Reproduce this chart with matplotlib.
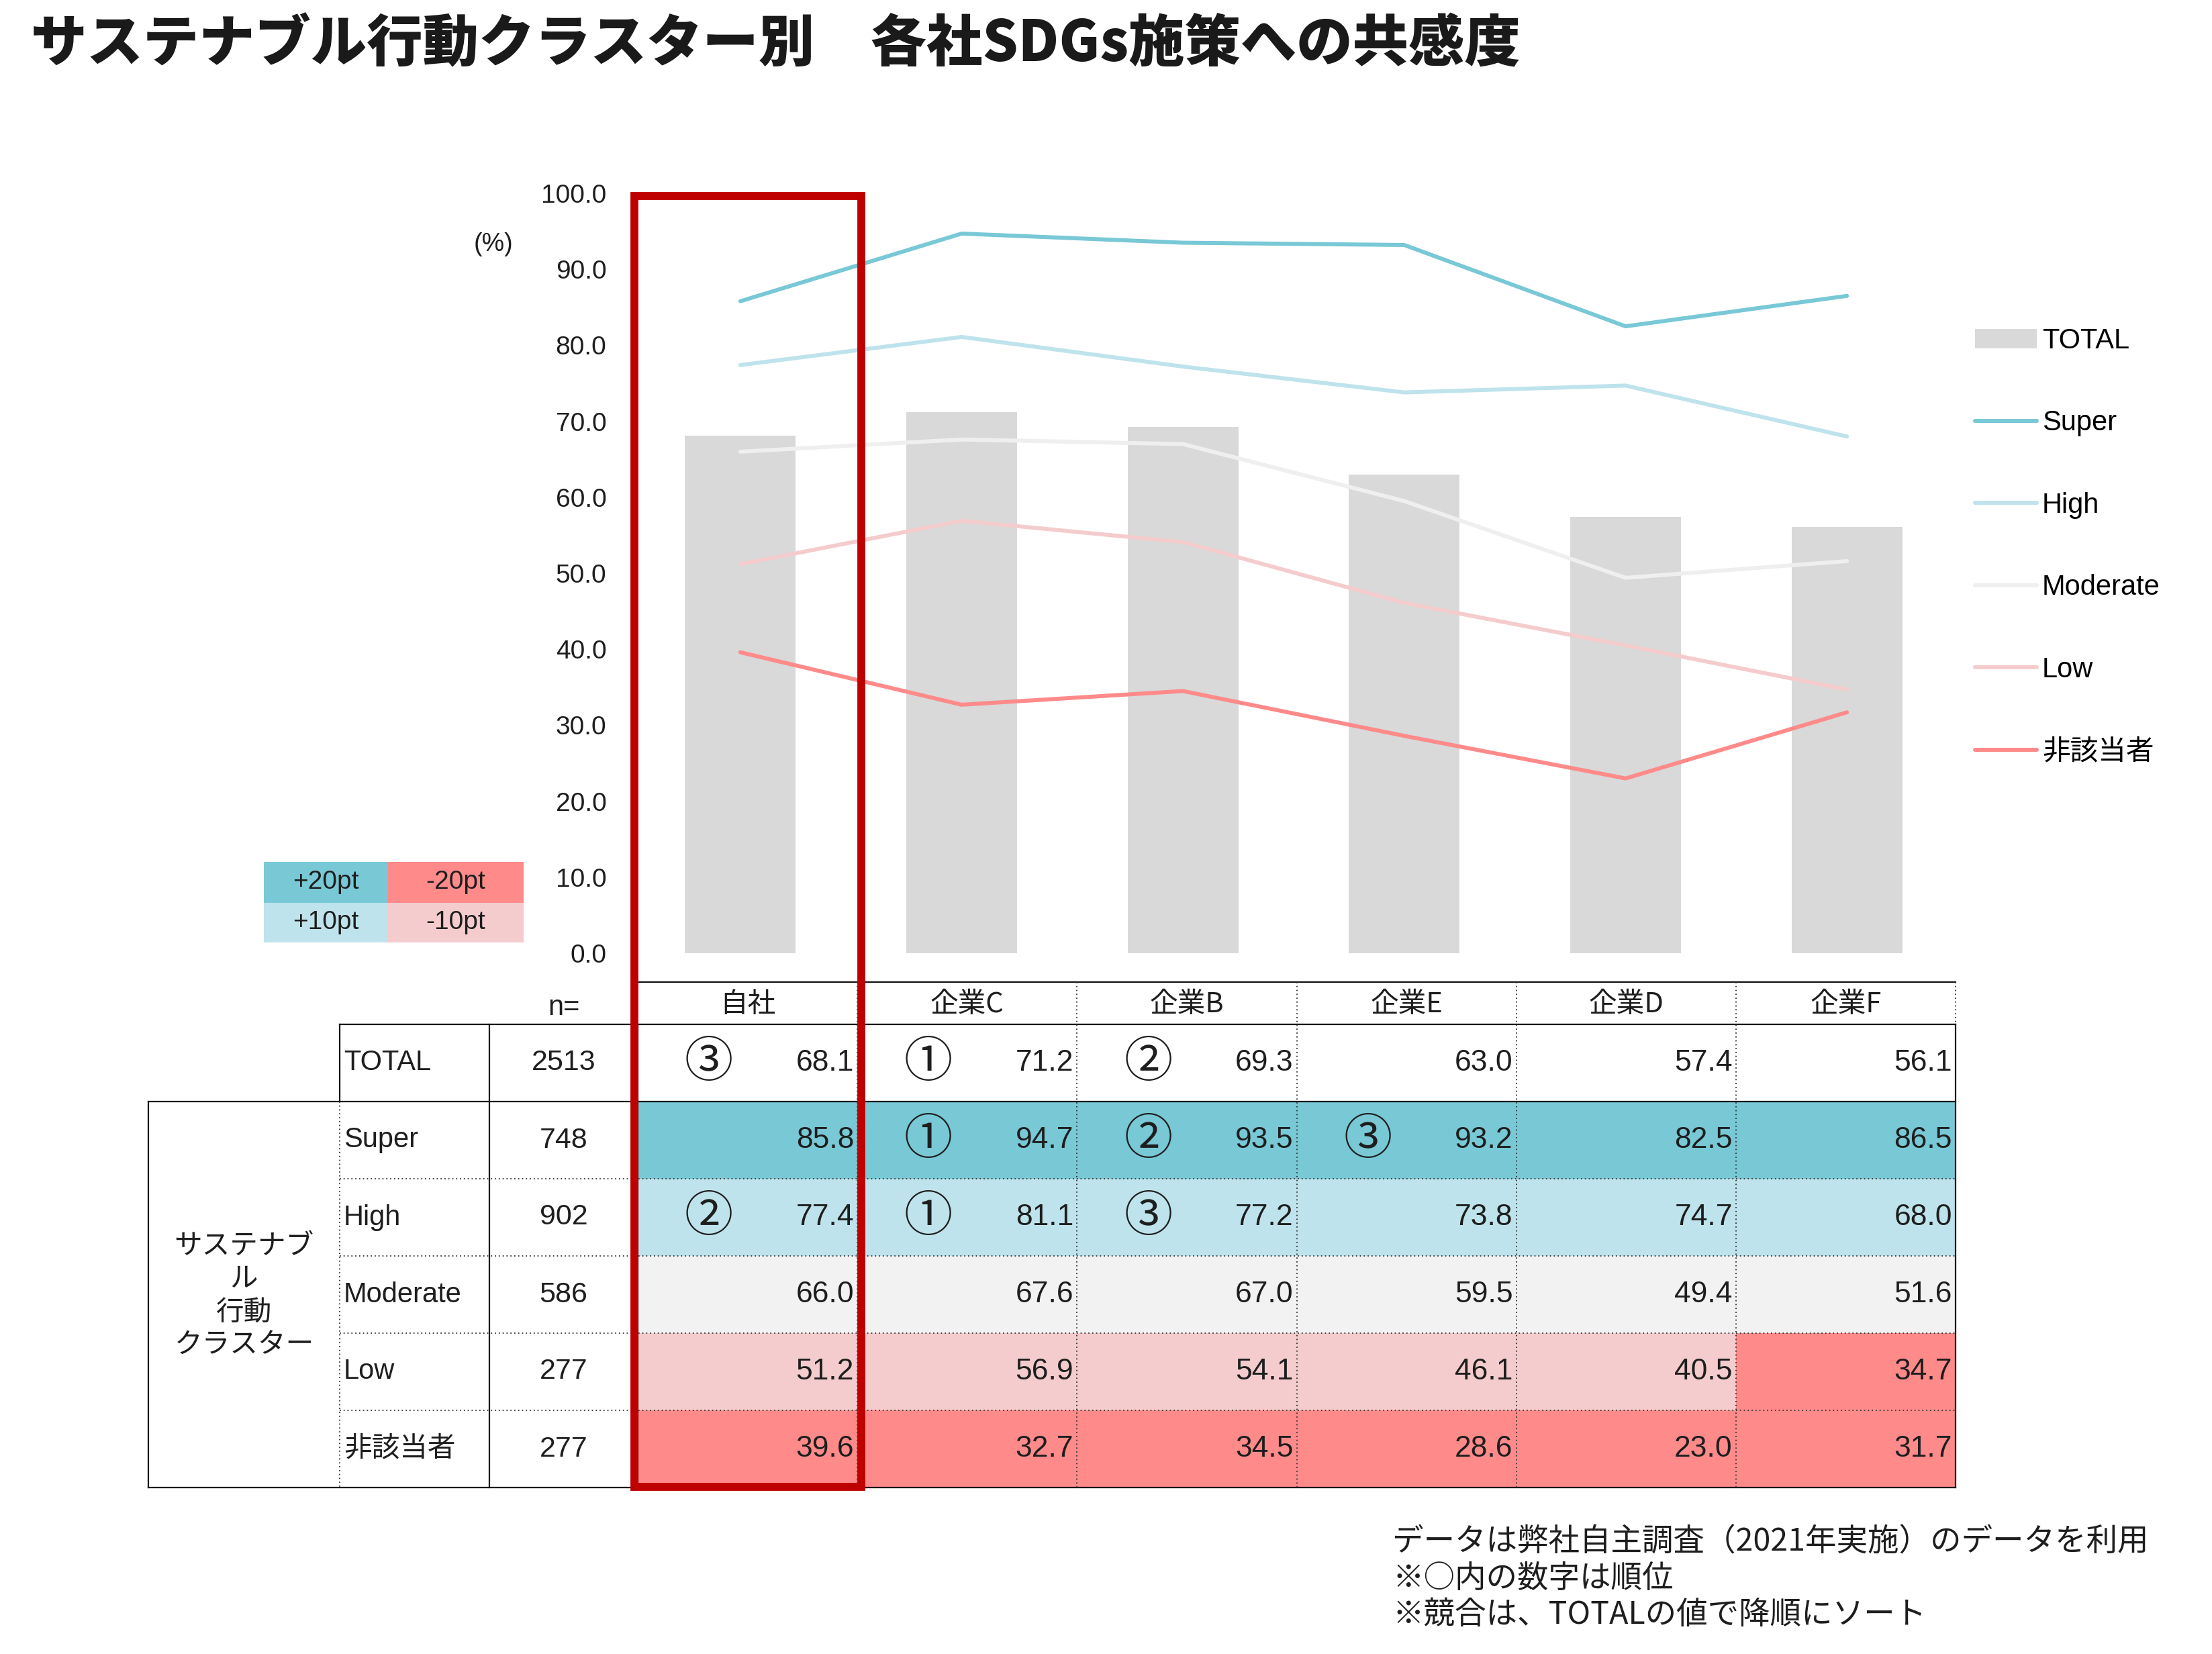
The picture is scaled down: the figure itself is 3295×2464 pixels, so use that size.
import matplotlib
matplotlib.use("Agg")
import matplotlib.pyplot as plt
from matplotlib.patches import Rectangle, Patch
from matplotlib.lines import Line2D

# ---------------- data ----------------
companies = ['自社', '企業C', '企業B', '企業E', '企業D', '企業F']
series_names = ['Super', 'High', 'Moderate', 'Low', '非該当者']
total = [68.1, 71.2, 69.3, 63.0, 57.4, 56.1]
super_vals = [85.8, 94.7, 93.5, 93.2, 82.5, 86.5]
high_vals = [77.4, 81.1, 77.2, 73.8, 74.7, 68.0]
moderate_vals = [66.0, 67.6, 67.0, 59.5, 49.4, 51.6]
low_vals = [51.2, 56.9, 54.1, 46.1, 40.5, 34.7]
non_vals = [39.6, 32.7, 34.5, 28.6, 23.0, 31.7]
n_values = [2513, 748, 902, 586, 277, 277]
row_labels = ['TOTAL', 'Super', 'High', 'Moderate', 'Low', '非該当者']
# rank marks (0 = none)
ranks = [
    [3, 1, 2, 0, 0, 0],
    [0, 1, 2, 3, 0, 0],
    [2, 1, 3, 0, 0, 0],
    [0, 0, 0, 0, 0, 0],
    [0, 0, 0, 0, 0, 0],
    [0, 0, 0, 0, 0, 0],
]
# cell highlight codes for cluster rows
cell_codes = [
    ['p20', 'p20', 'p20', 'p20', 'p20', 'p20'],
    ['p10', 'p10', 'p10', 'p10', 'p10', 'p10'],
    ['z', 'z', 'z', 'z', 'z', 'z'],
    ['m10', 'm10', 'm10', 'm10', 'm10', 'm20'],
    ['m20', 'm20', 'm20', 'm20', 'm20', 'm20'],
]
key_labels = [['+20pt', '-20pt'], ['+10pt', '-10pt']]
footnotes = ['データは弊社自主調査（2021年実施）のデータを利用',
             '※○内の数字は順位',
             '※競合は、TOTALの値で降順にソート']

# ---------------- styles ----------------
C_P20 = '#78C8D6'
C_P10 = '#BEE3EC'
C_Z = '#F2F2F2'
C_M10 = '#F4CCCD'
C_M20 = '#FF8A8A'
code_colors = {'p20': C_P20, 'p10': C_P10, 'z': C_Z, 'm10': C_M10, 'm20': C_M20}
line_colors = [C_P20, C_P10, '#EFEFEF', C_M10, C_M20]
BAR_C = '#D9D9D9'
TXT = '#1E1E1E'
LAT = ['Liberation Sans', 'Noto Sans CJK JP']
JP = ['Noto Sans CJK JP', 'Liberation Sans']

W, H = 3295, 2464
fig = plt.figure(figsize=(W / 100, H / 100), dpi=100)

def fx(x):
    return x / W

def fy(y):
    return 1 - y / H

# ---------------- main chart ----------------
AX0, AX1 = 938, 2916
Y100, Y0 = 288, 1420
ax = fig.add_axes([fx(AX0), fy(Y0), fx(AX1) - fx(AX0), fy(Y100) - fy(Y0)])
xs = list(range(len(companies)))
ax.bar(xs, total, width=0.5, color=BAR_C, zorder=1, label='TOTAL')
all_series = [super_vals, high_vals, moderate_vals, low_vals, non_vals]
for name, vals, col in zip(series_names, all_series, line_colors):
    ax.plot(xs, vals, color=col, lw=4.3, solid_capstyle='round', zorder=2, label=name)
ax.set_xlim(-0.5, len(companies) - 0.5)
ax.set_ylim(0, 100)
ax.set_yticks(range(0, 101, 10))
ax.set_yticklabels([f'{v:.1f}' for v in range(0, 101, 10)], fontsize=28, family=LAT, color=TXT)
ax.tick_params(axis='y', length=0, pad=25)
ax.set_xticks([])
for s in ax.spines.values():
    s.set_visible(False)
ax.patch.set_alpha(0)

handles = [Patch(facecolor=BAR_C, edgecolor='none')] + \
    [Line2D([0], [0], color=c, lw=4.3, solid_capstyle='round') for c in line_colors]
leg = fig.legend(handles, ['TOTAL'] + series_names, loc='upper left',
                 bbox_to_anchor=(fx(2942), fy(488)), frameon=False,
                 prop={'family': LAT, 'size': 30}, handlelength=2.2,
                 handletextpad=0.2, labelspacing=1.98, borderpad=0, borderaxespad=0)

# ---------------- overlay for table ----------------
ov = fig.add_axes([0, 0, 1, 1])
ov.set_xlim(0, W)
ov.set_ylim(H, 0)
ov.axis('off')
ov.patch.set_alpha(0)

X0, X1 = 950, 2913
XC, XL, XN = 221, 506, 729
CW = (X1 - X0) / len(companies)
YH0, YT0 = 1463, 1526
RH = 115
row_tops = [YT0 + i * RH for i in range(len(row_labels) + 1)]

# fills
for r in range(1, len(row_labels)):
    for c in range(len(companies)):
        ov.add_patch(Rectangle((X0 + c * CW, row_tops[r]), CW, RH,
                               facecolor=code_colors[cell_codes[r - 1][c]], edgecolor='none', zorder=1))

solid = dict(color='#111111', lw=1.6, zorder=3)
dotted = dict(color='#333333', lw=1.3, ls=(0, (1, 2.2)), zorder=3)
# horizontal lines
ov.plot([X0, X1], [YH0, YH0], **solid)
ov.plot([XL, X1], [YT0, YT0], **solid)
ov.plot([XC, X1], [row_tops[1], row_tops[1]], **solid)
for r in range(2, len(row_labels)):
    ov.plot([XL, X1], [row_tops[r], row_tops[r]], **dotted)
ov.plot([XC, X1], [row_tops[-1], row_tops[-1]], **solid)
# vertical lines
for c in range(1, len(companies)):
    xx = X0 + c * CW
    ov.plot([xx, xx], [YH0, row_tops[-1]], **dotted)
ov.plot([X1, X1], [YH0, YT0], **dotted)
ov.plot([X1, X1], [YT0, row_tops[-1]], **solid)
ov.plot([XL, XL], [YT0, row_tops[1]], **solid)
ov.plot([XL, XL], [row_tops[1], row_tops[-1]], **dotted)
ov.plot([XN, XN], [YT0, row_tops[-1]], **solid)
ov.plot([X0, X0], [YT0, row_tops[-1]], **solid)
ov.plot([XC, XC], [row_tops[1], row_tops[-1]], **solid)

# header
for c, name in enumerate(companies):
    ov.text(X0 + (c + 0.5) * CW, (YH0 + YT0) / 2 + 2, name, ha='center', va='center',
            fontsize=30, family=JP, color=TXT, zorder=4)
ov.text((XN + X0) / 2, (YH0 + YT0) / 2 + 6, 'n=', ha='center', va='center',
        fontsize=30, family=LAT, color=TXT, zorder=4)

all_rows = [total] + all_series
for r, lab in enumerate(row_labels):
    yc = (row_tops[r] + row_tops[r + 1]) / 2
    ov.text(XL + 6, yc, lab, ha='left', va='center', fontsize=30, family=LAT, color=TXT, zorder=4)
    ov.text((XN + X0) / 2, yc, str(n_values[r]), ha='center', va='center', fontsize=31,
            family=LAT, color=TXT, zorder=4)
    for c in range(len(companies)):
        ov.text(X0 + (c + 1) * CW - 5, yc, f'{all_rows[r][c]:.1f}', ha='right', va='center',
                fontsize=32, family=LAT, color=TXT, zorder=4)
        if ranks[r][c]:
            ov.text(X0 + c * CW + 106, yc, chr(0x2460 + ranks[r][c] - 1), ha='center',
                    va='center', fontsize=52, family=JP, color=TXT, zorder=4)

ov.text((XC + XL) / 2, (row_tops[1] + row_tops[-1]) / 2 + 2, 'サステナブ\nル\n行動\nクラスター',
        ha='center', va='center', fontsize=30, family=JP, color=TXT, linespacing=1.25, zorder=4)

# colour key
kx = [393, 578, 780]
ky = [1284, 1345, 1404]
kcols = [[C_P20, C_M20], [C_P10, C_M10]]
for i in range(2):
    for j in range(2):
        ov.add_patch(Rectangle((kx[j], ky[i]), kx[j + 1] - kx[j], ky[i + 1] - ky[i],
                               facecolor=kcols[i][j], edgecolor='none', zorder=2))
        ov.text((kx[j] + kx[j + 1]) / 2, (ky[i] + ky[i + 1]) / 2, key_labels[i][j],
                ha='center', va='center', fontsize=28, family=LAT, color=TXT, zorder=4)

# (%)
ov.text(735, 364, '(%)', ha='center', va='center', fontsize=27, family=LAT, color=TXT)

# red frame
ov.add_patch(Rectangle((945, 292), 1283 - 945, 2215 - 292, facecolor='none',
                       edgecolor='#BE0000', lw=8.5, zorder=6))

# title
ov.text(46, 66, 'サステナブル行動クラスター別　各社SDGs施策への共感度', ha='left', va='center',
        fontsize=60, family=JP, weight='heavy', color='#1A1A1A')

# footnotes
for i, t in enumerate(footnotes):
    ov.text(2074, 2297 + i * 54.5, t, ha='left', va='center', fontsize=33.5, family=JP, color=TXT)

fig.savefig('out.png', dpi=100)
